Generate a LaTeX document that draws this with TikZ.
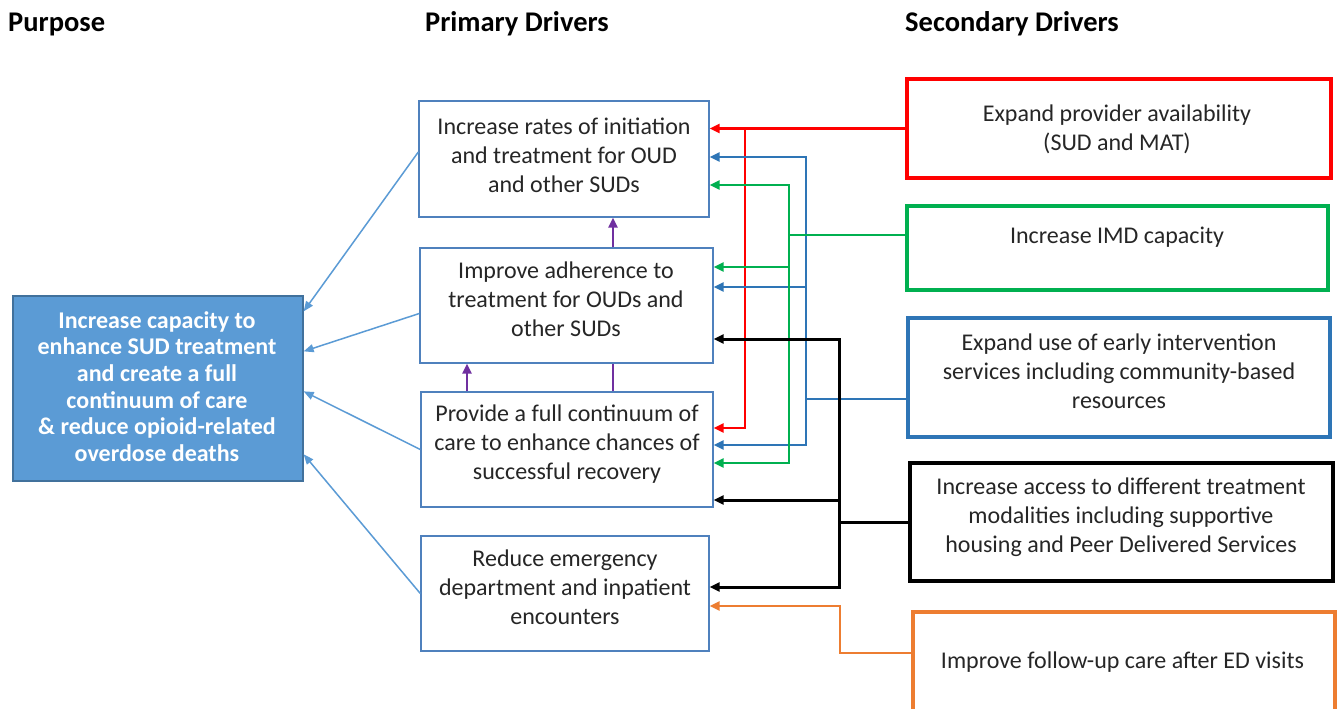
\documentclass[tikz,border=0pt]{standalone}
\usepackage{fontspec}
\setmainfont{Carlito}
\usetikzlibrary{arrows.meta,calc}
\definecolor{boxblue}{HTML}{4F81BD}
\definecolor{purfill}{HTML}{5B9BD5}
\definecolor{purdraw}{HTML}{41719C}
\definecolor{lblue}{HTML}{5B9BD5}
\definecolor{cred}{HTML}{FF0000}
\definecolor{cgreen}{HTML}{00B050}
\definecolor{cblue}{HTML}{2E75B6}
\definecolor{corange}{HTML}{ED7D31}
\definecolor{cpurple}{HTML}{7030A0}
\definecolor{txt}{HTML}{262626}
\begin{document}
\begin{tikzpicture}[x=1pt,y=-1pt,
  pbox/.style={draw=boxblue, line width=1.4pt, inner sep=0pt, fill=white},
  sbox/.style={line width=3.8pt, inner sep=0pt, fill=white},
  btext/.style={align=center, text=txt, font=\fontsize{24}{29}\selectfont, inner sep=0pt},
  hdr/.style={anchor=base west, text=black, font=\fontsize{28.5}{32}\selectfont\bfseries, inner sep=0pt},
  tip/.tip={Triangle[length=10pt,width=9pt]},
  conn/.style={line width=2.8pt},
  lbarrow/.style={draw=lblue, line width=1.5pt, -{Triangle[length=10pt,width=8pt]}}
]
\clip (0,0) rectangle (1341,709);
\fill[white] (0,0) rectangle (1341,709);

% headers
\node[hdr] (h1) at (8,32) {Purpose};
\node[hdr] (h2) at (425,32) {Primary Drivers};
\node[hdr] (h3) at (905,32) {Secondary Drivers};

% purpose
\node[draw=purdraw, fill=purfill, line width=1.3pt, minimum width=290pt, minimum height=185pt, inner sep=0pt] (purp) at (158,388.5) {};
\node[align=center, text=white, font=\fontsize{24}{26.6}\selectfont\bfseries, inner sep=0pt] (purt) at (157,386.5)
 {Increase capacity to\\enhance SUD treatment\\and create a full\\continuum of care\\\& reduce opioid-related\\overdose deaths};

% primary boxes
\node[pbox, minimum width=290pt, minimum height=116pt] (p1) at (564,159) {};
\node[pbox, minimum width=293pt, minimum height=115pt] (p2) at (566.5,305.5) {};
\node[pbox, minimum width=292pt, minimum height=115pt] (p3) at (567,449.5) {};
\node[pbox, minimum width=288pt, minimum height=115pt] (p4) at (565,593.5) {};
\node[btext] (p1t) at (564,155) {Increase rates of initiation\\and treatment for OUD\\and other SUDs};
\node[btext] (p2t) at (566,299) {Improve adherence to\\treatment for OUDs and\\other SUDs};
\node[btext] (p3t) at (567,444) {Provide a full continuum of\\care to enhance chances of\\successful recovery};
\node[btext] (p4t) at (565,587) {Reduce emergency\\department and inpatient\\encounters};

% secondary boxes
\node[sbox, draw=cred, minimum width=424pt, minimum height=99pt] (s1) at (1119,128.5) {};
\node[sbox, draw=cgreen, minimum width=421pt, minimum height=84pt] (s2) at (1117.5,248) {};
\node[sbox, draw=cblue, minimum width=422pt, minimum height=119pt] (s3) at (1119,377.5) {};
\node[sbox, draw=black, minimum width=423pt, minimum height=118pt] (s4) at (1121.5,522) {};
\node[sbox, draw=corange, minimum width=422pt, minimum height=148pt] (s5) at (1124,686) {};
\node[btext] (s1t) at (1117,129) {Expand provider availability\\(SUD and MAT)};
\node[btext] (s2t) at (1117,237) {Increase IMD capacity};
\node[btext] (s3t) at (1119,371) {Expand use of early intervention\\services including community-based\\resources};
\node[btext] (s4t) at (1121,517) {Increase access to different treatment\\modalities including supportive\\housing and Peer Delivered Services};
\node[btext] (s5t) at (1122.5,662) {Improve follow-up care after ED visits};

% light blue arrows to purpose
\draw[lbarrow] ($(p1.west)+(0,-7)$) -- ($(purp.north east)+(0,16)$);
\draw[lbarrow] ($(p2.west)+(0,8)$) -- ($(purp.north east)+(0,56)$);
\draw[lbarrow] (p3.west) -- ($(purp.north east)+(0,96)$);
\draw[lbarrow] (p4.west) -- ($(purp.north east)+(0,159)$);

% purple
\coordinate (pu1) at (613,0);
\coordinate (pu2) at (467,0);
\draw[conn, cpurple, -tip] (p2.north -| pu1) -- (p1.south -| pu1);
\draw[conn, cpurple] (p3.north -| pu1) -- (p2.south -| pu1);
\draw[conn, cpurple, -tip] (p3.north -| pu2) -- (p2.south -| pu2);

% red
\coordinate (rt) at (745,428);
\draw[conn, cred, -tip] (s1.west) -- (s1.west -| p1.east);
\draw[conn, cred, -tip] (s1.west -| rt) -- (rt) -- (rt -| p3.east);

% blue
\coordinate (b1) at (806,157);
\coordinate (b2) at (806,287);
\coordinate (b3) at (806,445);
\coordinate (bf) at (806,399);
\draw[conn, cblue, tip-tip] (b1 -| p1.east) -- (b1) -- (b3) -- (b3 -| p3.east);
\draw[conn, cblue, -tip] (b2) -- (b2 -| p2.east);
\draw[conn, cblue] (s3.west |- bf) -- (bf);

% green
\coordinate (g1) at (789,185);
\coordinate (g2) at (789,267);
\coordinate (g3) at (789,463);
\coordinate (gf) at (789,235);
\draw[conn, cgreen, tip-tip] (g1 -| p1.east) -- (g1) -- (g3) -- (g3 -| p3.east);
\draw[conn, cgreen, -tip] (g2) -- (g2 -| p2.east);
\draw[conn, cgreen] (s2.west |- gf) -- (gf);

% black
\coordinate (k1) at (839,339);
\coordinate (k2) at (839,500);
\coordinate (k3) at (839,587);
\draw[conn, black, line width=3pt, tip-tip] (k1 -| p2.east) -- (k1) -- (k3) -- (k3 -| p4.east);
\draw[conn, black, line width=3pt, -tip] (k2) -- (k2 -| p3.east);
\draw[conn, black, line width=3pt] (s4.west) -- (s4.west -| k1);

% orange
\coordinate (o1) at (840,653);
\coordinate (o2) at (840,606);
\draw[conn, corange, -tip] (s5.west |- o1) -- (o1) -- (o2) -- (o2 -| p4.east);
\end{tikzpicture}
\end{document}
